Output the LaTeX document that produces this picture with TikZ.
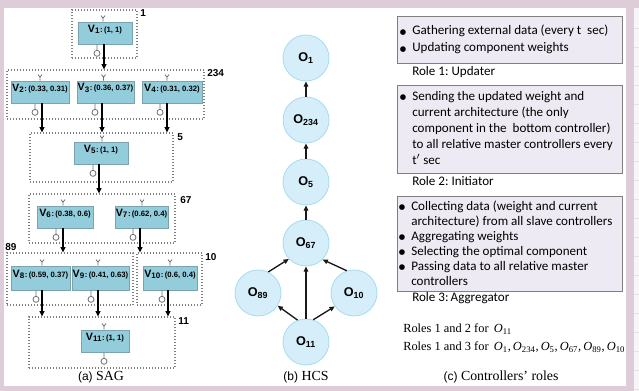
\documentclass[tikz,border=0pt]{standalone}
\usepackage{fontspec}
\setmainfont{Liberation Serif}
\setsansfont{Liberation Sans}
\newfontfamily\rolefont{Carlito}
\newfontfamily\symfont{DejaVu Sans}
\usetikzlibrary{fit,arrows.meta,calc}
\frenchspacing

\definecolor{framepink}{HTML}{DECCD9}
\definecolor{sidepale}{HTML}{F7F5F7}
\definecolor{sidelines}{HTML}{E4E4E4}
\definecolor{vfill}{HTML}{93CDDC}
\definecolor{vdraw}{HTML}{7AA3AE}
\definecolor{cfill}{HTML}{D5EEFA}
\definecolor{cdraw}{HTML}{A5DCEE}
\definecolor{rfill}{HTML}{EEEAF3}
\definecolor{rdraw}{HTML}{7F7F7F}
\definecolor{dotgray}{HTML}{808080}
\definecolor{symgray}{HTML}{707070}

% box label: V_i : (a, b)
\newcommand\vlab[2]{{\fontsize{8}{9}\selectfont V\textsubscript{#1}}{\fontsize{5.8}{6}\selectfont :\,(#2)}}
% controller label: O_i
\newcommand\olab[1]{O\textsubscript{#1}}
% bullet hanging left of the text
\newcommand\bul{\makebox[0pt][r]{\raisebox{0.5pt}{\symfont\fontsize{5.5}{5}\selectfont ●}\hspace{4.5pt}}}
% provided interface (Y) on top of a component
\newcommand\antenna[2]{\draw[sym] ($(#1.north)+(#2,0)$) -- ++(0,-3.5) -- ++(-2,-2.5) ++(2,2.5) -- ++(2,-2.5);}
% required interface (lollipop) below a component
\newcommand\lolli[2]{\draw[sym,fill=white] ($(#1.south)+(#2,0)$) -- ++(0,6) ++(0,3) circle[radius=3];}
% arrow from a component down to the next group frame
\newcommand\sagarrow[3]{\path ($(#1.south)+(#3,0)$) coordinate (#1out); \draw[sarr] (#1out) -- (#1out |- #2.north);}
% italic O with upright subscript, serif
\newcommand\oit[1]{\textit{O}\textsubscript{#1}}

\begin{document}
\begin{tikzpicture}[x=0.75pt,y=-0.75pt,
  grp/.style={draw=dotgray, line width=0.8pt, dash pattern=on 0.75pt off 1.5pt, inner sep=0pt},
  vbox/.style={draw=vdraw, fill=vfill, line width=0.5pt, inner sep=0pt, font=\sffamily\bfseries},
  sym/.style={draw=symgray, line width=0.6pt},
  sarr/.style={draw=black, line width=1.1pt, -{Triangle[length=4pt,width=3.6pt]}},
  glab/.style={font=\sffamily\bfseries\fontsize{7.5}{8}\selectfont, inner sep=0pt},
  ctrl/.style={circle, draw=cdraw, fill=cfill, line width=0.6pt, minimum size=34.5pt, inner sep=0pt, font=\sffamily\bfseries\fontsize{9.5}{11}\selectfont},
  harr/.style={draw=black!90, line width=1pt, -{Triangle[length=4pt,width=3.4pt]}},
  rolebox/.style={draw=rdraw, fill=rfill, line width=0.6pt, inner sep=0pt},
  roletext/.style={font=\rolefont\fontsize{9.8}{11}\selectfont, inner sep=0pt, anchor=base west},
  rolesline/.style={font=\fontsize{9.3}{10}\selectfont, inner sep=0pt, anchor=base west},
  caption/.style={font=\fontsize{10.4}{12}\selectfont, inner sep=0pt, anchor=base}
]
\useasboundingbox (0,0) rectangle (639,391);

% page frame
\fill[framepink] (0,0) rectangle (639,391);
\fill[white] (4,8) rectangle (626,386);
\fill[sidepale] (634,8) rectangle (639,391);
\foreach \yy in {28,47,...,390} \draw[sidelines, line width=0.5pt] (634,\yy) -- (639,\yy);

% ---------------- (a) SAG ----------------
\node[grp, fit={(72,10)(137,58)}] (g1) {};
\node[grp, fit={(7,70)(204,119)}] (g234) {};
\node[grp, fit={(30,133)(173,182)}] (g5) {};
\node[grp, fit={(29,194)(175,243)}] (g67) {};
\node[grp, fit={(7,253)(133,305)}] (g89) {};
\node[grp, fit={(137,253)(202,305)}] (g10) {};
\node[grp, fit={(29,317)(175,368)}] (g11) {};

\node[glab, anchor=west] (lg1) at (140,13) {1};
\node[glab, anchor=west] (lg234) at (207,73) {234};
\node[glab, anchor=west] (lg5) at (177,137) {5};
\node[glab, anchor=west] (lg67) at (180,200) {67};
\node[glab] (lg89) at (11,247) {89};
\node[glab, anchor=west] (lg10) at (205,257) {10};
\node[glab, anchor=west] (lg11) at (178,321) {11};

\node[vbox, fit={(78,22)(132,44)}] (v1) {\vlab{1}{1, 1}};
\node[vbox, fit={(11,81)(69,103)}] (v2) {\vlab{2}{0.33, 0.31}};
\node[vbox, fit={(77,81)(134,103)}] (v3) {\vlab{3}{0.36, 0.37}};
\node[vbox, fit={(142,81)(202,103)}] (v4) {\vlab{4}{0.31, 0.32}};
\node[vbox, fit={(74,142)(128,164)}] (v5) {\vlab{5}{1, 1}};
\node[vbox, fit={(37,206)(93,228)}] (v6) {\vlab{6}{0.38, 0.6}};
\node[vbox, fit={(115,206)(168,228)}] (v7) {\vlab{7}{0.62, 0.4}};
\node[vbox, fit={(11,266)(70,290)}] (v8) {\vlab{8}{0.59, 0.37}};
\node[vbox, fit={(72,266)(129,290)}] (v9) {\vlab{9}{0.41, 0.63}};
\node[vbox, fit={(143,266)(197,290)}] (v10) {\vlab{10}{0.6, 0.4}};
\node[vbox, fit={(81,330)(129,352)}] (v11) {\vlab{11}{1, 1}};

\antenna{v1}{-2}  \antenna{v2}{0}   \antenna{v3}{-2}  \antenna{v4}{-5}
\antenna{v5}{1}   \antenna{v6}{-2}  \antenna{v7}{0.5} \antenna{v8}{1.5}
\antenna{v9}{-2.5} \antenna{v10}{0} \antenna{v11}{-1}

\lolli{v1}{-8}  \lolli{v2}{-5}  \lolli{v3}{-10.5} \lolli{v4}{-12}
\lolli{v5}{-8}  \lolli{v6}{-9}  \lolli{v7}{-8.5}  \lolli{v8}{-4.5}
\lolli{v9}{-9.5} \lolli{v10}{-8} \lolli{v11}{-1}

\sagarrow{v1}{g234}{-1}
\sagarrow{v2}{g5}{2}
\sagarrow{v3}{g5}{-3.5}
\sagarrow{v4}{g5}{-5}
\sagarrow{v5}{g67}{-2}
\sagarrow{v6}{g89}{-2}
\sagarrow{v7}{g10}{-1.5}
\sagarrow{v8}{g11}{1.5}
\sagarrow{v9}{g11}{-2.5}
\sagarrow{v10}{g11}{-2}

\node[caption] (capa) at (101,381) {{\sffamily\fontsize{9}{10}\selectfont (a)} SAG};

% ---------------- (b) HCS ----------------
\node[ctrl] (o1) at (306,58) {\olab{1}};
\node[ctrl] (o234) at (306,120) {\olab{234}};
\node[ctrl] (o5) at (306,182) {\olab{5}};
\node[ctrl] (o67) at (306,243) {\olab{67}};
\node[ctrl] (o89) at (258,293) {\olab{89}};
\node[ctrl] (o10) at (354,293) {\olab{10}};
\node[ctrl] (o11) at (306,342) {\olab{11}};

\draw[harr] (o234) -- (o1);
\draw[harr] (o5) -- (o234);
\draw[harr] (o67) -- (o5);
\draw[harr] (o11) -- (o67);
\draw[harr] (o89.64) -- (o67.223);
\draw[harr] (o10.108) -- (o67.-45);
\draw[harr] (o11.111) -- (o89.-33);
\draw[harr] (o11.72) -- (o10.215);

\node[caption] (capb) at (306,381) {{\sffamily\fontsize{9}{10}\selectfont (b)} HCS};

% ---------------- (c) Controllers' roles ----------------
\node[rolebox, fit={(397,16)(622,63)}] (r1) {};
\node[roletext] (r1a) at (412,35) {\bul Gathering external data (every t \ sec)};
\node[roletext] (r1b) at (412,52) {\bul Updating component weights};
\node[roletext] (r1n) at (412,76) {Role 1: Updater};

\node[rolebox, fit={(397,85)(622,173)}] (r2) {};
\node[roletext] (r2a) at (412,100.5) {\bul Sending the updated weight and};
\node[roletext] (r2b) at (412,116.5) {current architecture (the only};
\node[roletext] (r2c) at (412,132.5) {component in the \ bottom controller)};
\node[roletext] (r2d) at (412,148.5) {to all relative master controllers every};
\node[roletext] (r2e) at (412,164.5) {t$'$ sec};
\node[roletext] (r2n) at (412,186) {Role 2: Initiator};

\node[rolebox, fit={(397,196)(622,291)}] (r3) {};
\node[roletext] (r3a) at (411,210.5) {\bul Collecting data (weight and current};
\node[roletext] (r3b) at (411,225.5) {architecture) from all slave controllers};
\node[roletext] (r3c) at (411,240.5) {\bul Aggregating weights};
\node[roletext] (r3d) at (411,255.5) {\bul Selecting the optimal component};
\node[roletext] (r3e) at (411,270.5) {\bul Passing data to all relative master};
\node[roletext] (r3f) at (411,285.5) {controllers};
\node[roletext] (r3n) at (412,302) {Role 3:\,Aggregator};

\node[rolesline] (rs1) at (403,333) {Roles 1 and 2 for \,\oit{11}};
\node[rolesline] (rs2) at (403,351) {Roles 1 and 3 for \,\oit{1},\,\oit{234},\,\oit{5},\,\oit{67},\,\oit{89},\,\oit{10}};

\node[caption] (capc) at (501,381) {{\sffamily\fontsize{9}{10}\selectfont (c)} Controllers' roles};
\end{tikzpicture}
\end{document}
